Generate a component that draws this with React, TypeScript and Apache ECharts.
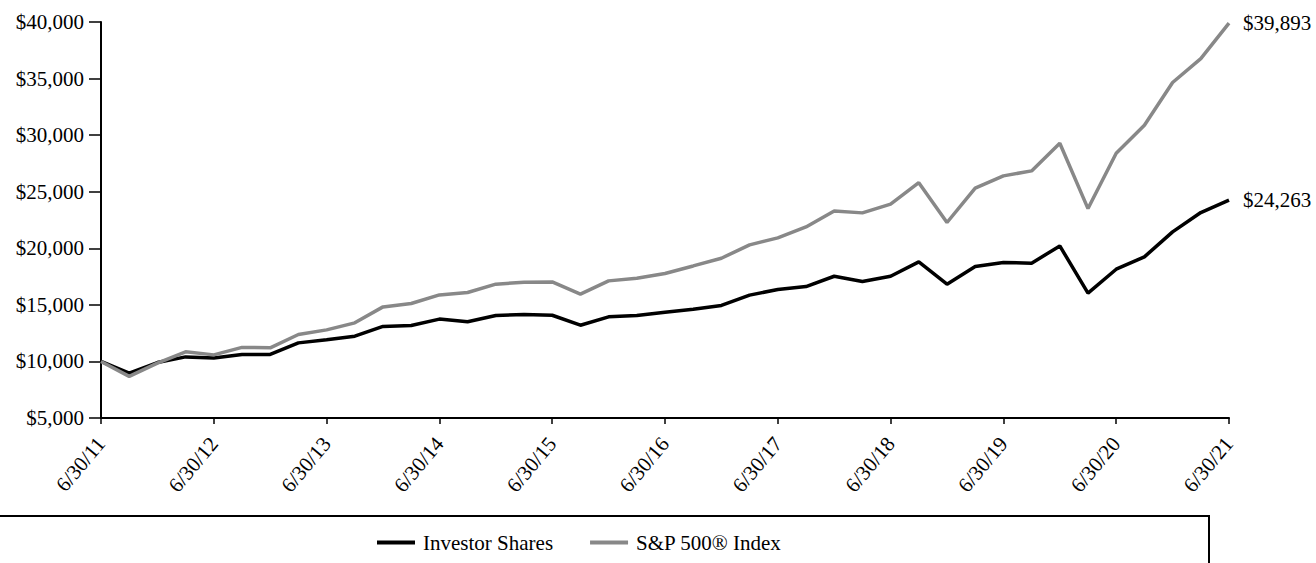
import React, { useEffect, useRef } from "react";
import * as echarts from "echarts";

const dates = [
  "6/30/11", "9/30/11", "12/31/11", "3/31/12",
  "6/30/12", "9/30/12", "12/31/12", "3/31/13",
  "6/30/13", "9/30/13", "12/31/13", "3/31/14",
  "6/30/14", "9/30/14", "12/31/14", "3/31/15",
  "6/30/15", "9/30/15", "12/31/15", "3/31/16",
  "6/30/16", "9/30/16", "12/31/16", "3/31/17",
  "6/30/17", "9/30/17", "12/31/17", "3/31/18",
  "6/30/18", "9/30/18", "12/31/18", "3/31/19",
  "6/30/19", "9/30/19", "12/31/19", "3/31/20",
  "6/30/20", "9/30/20", "12/31/20", "3/31/21",
  "6/30/21",
];

const investorShares = [
  10000, 8970, 9900, 10400, 10300, 10620, 10620, 11640, 11910, 12230,
  13090, 13180, 13740, 13500, 14060, 14150, 14080, 13200, 13940, 14060,
  14350, 14620, 14950, 15860, 16360, 16620, 17530, 17070, 17530, 18800,
  16830, 18390, 18750, 18680, 20210, 16030, 18150, 19240, 21450, 23160,
  24263,
];

const sp500 = [
  10000, 8680, 9850, 10850, 10580, 11240, 11200, 12380, 12790, 13410,
  14820, 15120, 15880, 16090, 16830, 17000, 17030, 15950, 17120, 17360,
  17770, 18440, 19120, 20300, 20920, 21890, 23300, 23130, 23900, 25800,
  22280, 25310, 26400, 26840, 29280, 23510, 28400, 30870, 34650, 36770,
  39893,
];

const seriesNames = ["Investor Shares", "S&P 500® Index"];

const FONT = "Liberation Serif";
const FS = 21;
const money = (v: number) => "$" + v.toLocaleString("en-US");

export default function App() {
  const ref = useRef<HTMLDivElement>(null);
  useEffect(() => {
    if (!ref.current) return;
    const chart = echarts.init(ref.current, undefined, { renderer: "svg" });
    chart.setOption({
      animation: false,
      backgroundColor: "#fff",
      textStyle: { fontFamily: FONT, color: "#000" },
      grid: { left: 101, right: 87, top: 22, bottom: 145, containLabel: false },
      legend: {
        left: 372,
        top: 527,
        icon: "rect",
        itemWidth: 38,
        itemHeight: 4,
        itemGap: 37,
        textStyle: { fontFamily: FONT, fontSize: FS, color: "#000", padding: [0, 0, 0, 3] },
        data: seriesNames,
      },
      graphic: [
        {
          type: "rect",
          shape: { x: -20, y: 516, width: 1229, height: 100 },
          style: { fill: "none", stroke: "#000", lineWidth: 2 },
          silent: true,
          z: -1,
        },
      ],
      xAxis: {
        type: "category",
        data: dates,
        boundaryGap: false,
        axisLine: { lineStyle: { color: "#000", width: 2 } },
        axisTick: { interval: 3, length: 6, lineStyle: { color: "#000", width: 1.5 } },
        axisLabel: {
          interval: 3,
          rotate: 50,
          margin: 22,
          fontFamily: FONT,
          fontSize: FS,
          color: "#000",
        },
        splitLine: { show: false },
      },
      yAxis: {
        type: "value",
        min: 5000,
        max: 40000,
        interval: 5000,
        axisLine: { show: true, lineStyle: { color: "#000", width: 2 } },
        axisTick: { show: true, length: 12, lineStyle: { color: "#000", width: 1.5 } },
        axisLabel: {
          margin: 17,
          fontFamily: FONT,
          fontSize: FS,
          color: "#000",
          formatter: (v: number) => money(v),
        },
        splitLine: { show: false },
      },
      series: [
        {
          name: seriesNames[0],
          type: "line",
          data: investorShares,
          symbol: "none",
          color: "#000",
          lineStyle: { color: "#000", width: 3.5 },
          endLabel: {
            show: true,
            distance: 14,
            fontFamily: FONT,
            fontSize: FS,
            color: "#000",
            formatter: (p: any) => money(p.value),
          },
          z: 2,
        },
        {
          name: seriesNames[1],
          type: "line",
          data: sp500,
          symbol: "none",
          color: "#888",
          lineStyle: { color: "#888", width: 3.5 },
          endLabel: {
            show: true,
            distance: 14,
            fontFamily: FONT,
            fontSize: FS,
            color: "#000",
            formatter: (p: any) => money(p.value),
          },
          z: 3,
        },
      ],
    });
    return () => chart.dispose();
  }, []);
  return (
    <div
      ref={ref}
      style={{ position: "fixed", left: 0, top: 0, width: 1316, height: 563 }}
    />
  );
}
